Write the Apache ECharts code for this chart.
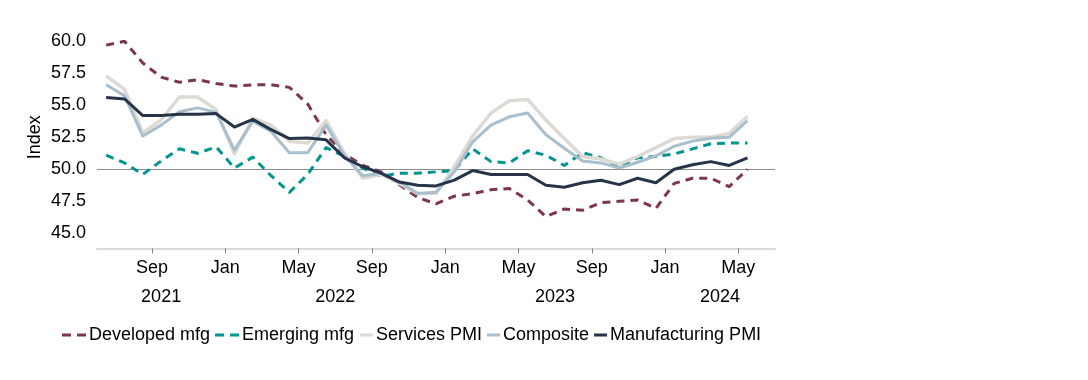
<!DOCTYPE html>
<html>
<head>
<meta charset="utf-8">
<script src="https://cdn.jsdelivr.net/npm/echarts@6/dist/echarts.min.js"></script>
<style>
html,body{margin:0;padding:0;background:#ffffff;}
#chart{width:1088px;height:380px;}
</style>
</head>
<body>
<div id="chart"></div>
<script>
// ---- categories (monthly, Jun 2021 – May 2024) ----
const months = [
  'Jun 2021','Jul 2021','Aug 2021','Sep 2021','Oct 2021','Nov 2021','Dec 2021',
  'Jan 2022','Feb 2022','Mar 2022','Apr 2022','May 2022','Jun 2022','Jul 2022','Aug 2022','Sep 2022','Oct 2022','Nov 2022','Dec 2022',
  'Jan 2023','Feb 2023','Mar 2023','Apr 2023','May 2023','Jun 2023','Jul 2023','Aug 2023','Sep 2023','Oct 2023','Nov 2023','Dec 2023',
  'Jan 2024','Feb 2024','Mar 2024','Apr 2024','May 2024'
];
const axisLastMonth = 'Jun 2024';      // axis runs one month past the data
const axisEndBoundary = 'Jul 2024';    // right end of the axis
const tickMonths = ['Sep', 'Jan', 'May'];
const yearLabels = ['2021', '2022', '2023', '2024'];

// ---- series values ----
const developedMfg = [59.7, 60.0, 58.3, 57.2, 56.8, 57.0, 56.7, 56.5, 56.6, 56.6, 56.4, 55.1, 52.7, 51.2, 50.3, 49.8, 48.8, 47.8, 47.3, 47.9, 48.1, 48.4, 48.5, 47.6, 46.3, 46.9, 46.8, 47.4, 47.5, 47.6, 46.95, 48.9, 49.3, 49.3, 48.65, 50.0];
const emergingMfg  = [51.1, 50.5, 49.6, 50.65, 51.6, 51.25, 51.75, 50.1, 50.95, 49.5, 48.2, 49.6, 51.7, 51.0, 50.1, 49.45, 49.7, 49.7, 49.8, 49.9, 51.6, 50.6, 50.5, 51.45, 51.1, 50.3, 51.3, 50.9, 50.1, 50.9, 51.0, 51.2, 51.6, 52.0, 52.05, 52.05];
const servicesPMI  = [57.3, 56.25, 52.85, 53.85, 55.65, 55.65, 54.65, 51.2, 54.0, 53.45, 52.2, 52.05, 53.8, 51.25, 49.3, 49.6, 48.9, 48.1, 48.1, 50.2, 52.6, 54.4, 55.35, 55.45, 53.85, 52.4, 51.0, 50.8, 50.4, 51.0, 51.7, 52.4, 52.5, 52.5, 52.8, 54.15];
const composite    = [56.6, 55.75, 52.6, 53.45, 54.5, 54.8, 54.45, 51.5, 53.75, 52.95, 51.3, 51.3, 53.45, 51.1, 49.5, 49.7, 49.0, 48.1, 48.2, 49.8, 52.15, 53.45, 54.1, 54.4, 52.7, 51.65, 50.65, 50.5, 50.1, 50.55, 51.05, 51.8, 52.2, 52.42, 52.5, 53.8];
const manufacturingPMI = [55.6, 55.5, 54.2, 54.2, 54.3, 54.3, 54.35, 53.3, 53.9, 53.1, 52.4, 52.45, 52.3, 50.9, 50.2, 49.7, 49.0, 48.75, 48.7, 49.15, 49.9, 49.6, 49.6, 49.6, 48.75, 48.6, 48.95, 49.15, 48.8, 49.3, 48.95, 50.0, 50.35, 50.6, 50.3, 50.9];

const yMin = 45, yMax = 60, yStep = 2.5, refLevel = 50;

// ---- derived axis helpers ----
const axisMonths = months.concat([axisLastMonth]);            // one band per month
const boundaryNames = axisMonths.concat([axisEndBoundary]);    // month-start boundaries
const halfSteps = Array.from({length: boundaryNames.length * 2 - 1}, (_, i) => 'h' + i);
const yearPos = {};
yearLabels.forEach(y => {
  const idx = axisMonths.map((m, i) => m.endsWith(y) ? i : -1).filter(i => i >= 0);
  yearPos[idx[0] + idx[idx.length - 1] + 1] = y;
});

const FONT = "'Liberation Sans', Arial, sans-serif";
const FS = 18;
const TXT = '#000000';
const C = {
  dev: '#7d3550', emg: '#00958f', srv: '#dcdad2', cmp: '#a9bfcd', mfg: '#263349'
};
const dashIcon = 'path://M0,0H9V3H0Z M15,0H24V3H15Z';
const solidIcon = 'path://M0,0H13V3H0Z';

const chart = echarts.init(document.getElementById('chart'), null, {renderer: 'canvas'});
const isTick = (i, v) => tickMonths.indexOf(String(v).slice(0, 3)) >= 0;

function lineSeries(name, data, color, dashed, width) {
  return {
    name, type: 'line', data, xAxisIndex: 0, yAxisIndex: 0,
    symbol: 'none', showSymbol: false, smooth: false,
    lineStyle: {color, width, type: dashed ? [8, 6] : 'solid', cap: 'butt', join: 'round'},
    itemStyle: {color},
    emphasis: {disabled: true}
  };
}

const series = [
  lineSeries('Developed mfg', developedMfg, C.dev, true, 3),
  lineSeries('Emerging mfg', emergingMfg, C.emg, true, 3),
  lineSeries('Services PMI', servicesPMI, C.srv, false, 3.5),
  lineSeries('Composite', composite, C.cmp, false, 3),
  lineSeries('Manufacturing PMI', manufacturingPMI, C.mfg, false, 3)
];
series[0].markLine = {
  silent: true, symbol: 'none', z: 1, animation: false,
  label: {show: false},
  lineStyle: {color: '#8c8c8c', width: 1, type: 'solid'},
  data: [{yAxis: refLevel}]
};

const option = {
  animation: false,
  backgroundColor: '#ffffff',
  textStyle: {fontFamily: FONT},
  grid: {left: 97, right: 313, top: 41.3, bottom: 146.7, containLabel: false},
  xAxis: [
    {type: 'category', data: axisMonths, boundaryGap: true, show: false},
    {
      type: 'category', data: boundaryNames, boundaryGap: false, position: 'bottom', offset: 15,
      axisLine: {show: true, lineStyle: {color: '#d9d9d9', width: 2}},
      axisTick: {show: true, length: 5, interval: isTick, lineStyle: {color: '#7f7f7f', width: 1}},
      axisLabel: {interval: isTick, formatter: v => v.slice(0, 3), margin: 11, fontSize: FS, color: TXT, fontFamily: FONT},
      splitLine: {show: false}
    },
    {
      type: 'category', data: halfSteps, boundaryGap: false, position: 'bottom', offset: 15,
      axisLine: {show: false}, axisTick: {show: false}, splitLine: {show: false},
      axisLabel: {interval: i => yearPos[i] !== undefined, formatter: (v, i) => yearPos[i] || '', margin: 40, fontSize: FS, color: TXT, fontFamily: FONT}
    }
  ],
  yAxis: {
    type: 'value', min: yMin, max: yMax, interval: yStep,
    axisLine: {show: false}, axisTick: {show: false}, splitLine: {show: false},
    axisLabel: {formatter: v => v.toFixed(1), fontSize: FS, color: TXT, margin: 11, fontFamily: FONT},
    name: 'Index', nameLocation: 'middle', nameGap: 53, nameRotate: 90, nameMoveOverlap: false,
    nameTextStyle: {fontSize: FS, color: TXT, fontFamily: FONT}
  },
  legend: [
    {
      data: [{name: 'Developed mfg', icon: dashIcon}, {name: 'Emerging mfg', icon: dashIcon}],
      left: 57, top: 321, itemWidth: 24, itemHeight: 3, itemGap: 5,
      selectedMode: false,
      textStyle: {fontSize: FS, color: TXT, fontFamily: FONT, padding: [0, 0, 0, -2]}
    },
    {
      data: [{name: 'Services PMI', icon: solidIcon}, {name: 'Composite', icon: solidIcon}, {name: 'Manufacturing PMI', icon: solidIcon}],
      left: 355, top: 321, itemWidth: 13, itemHeight: 3, itemGap: 5,
      selectedMode: false,
      textStyle: {fontSize: FS, color: TXT, fontFamily: FONT, padding: [0, 0, 0, -2]}
    }
  ],
  series
};
chart.setOption(option);
</script>
</body>
</html>
